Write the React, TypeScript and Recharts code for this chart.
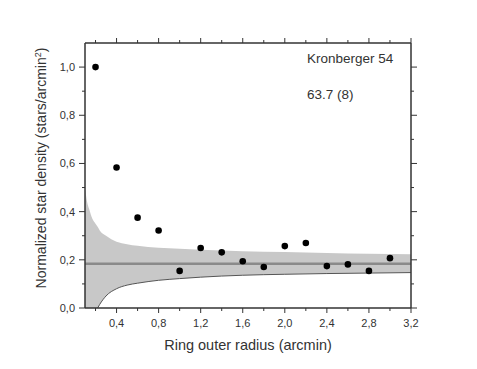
import React from 'react';
import {
  ComposedChart,
  Area,
  Line,
  Scatter,
  XAxis,
  YAxis,
  ReferenceLine,
} from 'recharts';

// measured ring densities
const radius = [0.2, 0.4, 0.6, 0.8, 1.0, 1.2, 1.4, 1.6, 1.8, 2.0, 2.2, 2.4, 2.6, 2.8, 3.0];
const density = [1.0, 0.583, 0.375, 0.322, 0.154, 0.249, 0.231, 0.194, 0.17, 0.257, 0.27, 0.174, 0.181, 0.154, 0.207];

// background level and its 1-sigma envelope
const background = 0.184;
const bandX = [0.1, 0.12, 0.14, 0.17, 0.2, 0.22, 0.24, 0.3, 0.4, 0.5, 0.6, 0.8, 1.0, 1.2, 1.6, 2.0, 2.4, 2.8, 3.2];
const bandHigh = [0.5, 0.44, 0.41, 0.37, 0.35, 0.337, 0.322, 0.3, 0.275, 0.265, 0.258, 0.25, 0.246, 0.242, 0.236, 0.232, 0.228, 0.225, 0.223];
const bandLow = [0, 0, 0, 0, 0, 0, 0.015, 0.05, 0.08, 0.095, 0.103, 0.115, 0.122, 0.128, 0.136, 0.14, 0.143, 0.145, 0.147];
const edgeStart = 0.22;

const xTicks = [0.2, 0.4, 0.6, 0.8, 1.0, 1.2, 1.4, 1.6, 1.8, 2.0, 2.2, 2.4, 2.6, 2.8, 3.0, 3.2];
const yTicks = [0, 0.1, 0.2, 0.3, 0.4, 0.5, 0.6, 0.7, 0.8, 0.9, 1.0];

const bandData = bandX.map((x, i) => ({
  x,
  range: [bandLow[i], bandHigh[i]],
  edge: x >= edgeStart ? bandLow[i] : null,
  mirror: null,
}));
const points = radius.map((x, i) => ({ x, y: density[i] }));

const FONT = '"Liberation Sans", Arial, sans-serif';
const INK = '#333';

const isMajor = (v: number, step: number) => Math.abs(v / step - Math.round(v / step)) < 1e-6;
const fmt = (v: number) => v.toFixed(1).replace('.', ',');

const BottomTick = ({ x, y, payload }: any) => {
  const major = isMajor(payload.value, 0.4);
  return (
    <g>
      <line x1={x} y1={y} x2={x} y2={y + (major ? 5 : 3)} stroke={INK} />
      {major && (
        <text x={x} y={y + 19} textAnchor="middle" fontSize={11} fontFamily={FONT} fill={INK}>
          {fmt(payload.value)}
        </text>
      )}
    </g>
  );
};

const TopTick = ({ x, y, payload }: any) => {
  const major = isMajor(payload.value, 0.4);
  return <line x1={x} y1={y} x2={x} y2={y - (major ? 5 : 3)} stroke={INK} />;
};

const LeftTick = ({ x, y, payload }: any) => {
  const major = isMajor(payload.value, 0.2);
  return (
    <g>
      <line x1={x - (major ? 6 : 3)} y1={y} x2={x} y2={y} stroke={INK} />
      {major && (
        <text x={x - 10} y={y + 4} textAnchor="end" fontSize={11} fontFamily={FONT} fill={INK}>
          {fmt(payload.value)}
        </text>
      )}
    </g>
  );
};

const RightTick = ({ x, y, payload }: any) => {
  const major = isMajor(payload.value, 0.2);
  return <line x1={x} y1={y} x2={x + (major ? 6 : 3)} y2={y} stroke={INK} />;
};

const Dot = ({ cx, cy }: any) => <circle cx={cx} cy={cy} r={3.3} fill="#000" />;

export default function App() {
  return (
    <div style={{ position: 'absolute', left: 0, top: 0, width: 477, height: 369, background: '#fff' }}>
      <ComposedChart
        width={477}
        height={369}
        data={bandData}
        margin={{ top: 42, right: 65, bottom: 16, left: 20 }}
      >
        <XAxis
          dataKey="x"
          type="number"
          domain={[0.1, 3.2]}
          allowDataOverflow
          ticks={xTicks}
          interval={0}
          height={45}
          stroke={INK}
          strokeWidth={1.5}
          tickSize={0}
          tickMargin={0}
          tickLine={false}
          tick={<BottomTick />}
        />
        <XAxis
          xAxisId="top"
          dataKey="x"
          orientation="top"
          type="number"
          domain={[0.1, 3.2]}
          allowDataOverflow
          ticks={xTicks}
          interval={0}
          height={1}
          stroke={INK}
          strokeWidth={1.5}
          tickSize={0}
          tickMargin={0}
          tickLine={false}
          tick={<TopTick />}
        />
        <YAxis
          type="number"
          domain={[0, 1.1]}
          allowDataOverflow
          ticks={yTicks}
          interval={0}
          width={65}
          stroke={INK}
          strokeWidth={1.5}
          tickSize={0}
          tickMargin={0}
          tickLine={false}
          tick={<LeftTick />}
        />
        <YAxis
          yAxisId="right"
          orientation="right"
          type="number"
          domain={[0, 1.1]}
          allowDataOverflow
          ticks={yTicks}
          interval={0}
          width={1}
          stroke={INK}
          strokeWidth={1.5}
          tickSize={0}
          tickMargin={0}
          tickLine={false}
          tick={<RightTick />}
        />
        <Area
          dataKey="range"
          type="monotone"
          fill="#c8c8c8"
          fillOpacity={1}
          stroke="none"
          isAnimationActive={false}
        />
        <Line
          dataKey="edge"
          type="monotone"
          stroke="#555"
          strokeWidth={1}
          dot={false}
          activeDot={false}
          isAnimationActive={false}
        />
        {/* empty series so the frame axes on top and right get drawn */}
        <Line
          xAxisId="top"
          yAxisId="right"
          dataKey="mirror"
          stroke="none"
          dot={false}
          activeDot={false}
          isAnimationActive={false}
        />
        <ReferenceLine y={background} stroke="#8a8a8a" strokeWidth={2.5} />
        <Scatter data={points} dataKey="y" shape={<Dot />} isAnimationActive={false} />
      </ComposedChart>
      <svg
        width={477}
        height={369}
        style={{ position: 'absolute', left: 0, top: 0, pointerEvents: 'none' }}
      >
        <text x={248} y={350} textAnchor="middle" fontSize={14.5} fontFamily={FONT} fill={INK}>
          Ring outer radius (arcmin)
        </text>
        <text
          transform="translate(46,168) rotate(-90)"
          textAnchor="middle"
          fontSize={14}
          fontFamily={FONT}
          fill={INK}
        >
          Normalized star density (stars/arcmin
          <tspan dy={-5} fontSize={9}>2</tspan>
          <tspan dy={5}>)</tspan>
        </text>
        <text x={307} y={63} fontSize={13.5} fontFamily={FONT} fill={INK}>
          Kronberger 54
        </text>
        <text x={307} y={98.5} fontSize={13.5} fontFamily={FONT} fill={INK}>
          63.7 (8)
        </text>
      </svg>
    </div>
  );
}
